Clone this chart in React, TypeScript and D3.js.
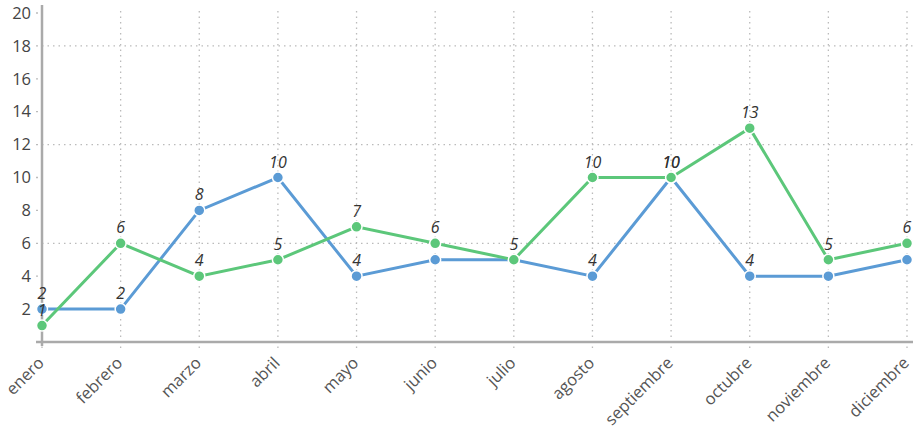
import React, { useRef, useEffect } from "react";
import * as d3 from "d3";

const months = [
  "enero", "febrero", "marzo", "abril", "mayo", "junio",
  "julio", "agosto", "septiembre", "octubre", "noviembre", "diciembre",
];
const blueValues = [2, 2, 8, 10, 4, 5, 5, 4, 10, 4, 4, 5];
const greenValues = [1, 6, 4, 5, 7, 6, 5, 10, 10, 13, 5, 6];
// which points carry a value label (others are hidden by overlap)
const blueLabeled = [true, true, true, true, true, false, false, true, true, true, false, false];
const greenLabeled = [true, true, true, true, true, true, true, true, true, true, true, true];
const yTicks = [2, 4, 6, 8, 10, 12, 14, 16, 18, 20];
const yGrid = [6, 12, 18];

const W = 921;
const H = 426;

export default function App() {
  const svgRef = useRef<SVGSVGElement>(null);

  useEffect(() => {
    if (!svgRef.current) return;
    const svg = d3.select(svgRef.current);
    svg.selectAll("*").remove();

    const margin = { top: 13, right: 14, bottom: 84, left: 42 };
    const innerW = W - margin.left - margin.right;
    const innerH = H - margin.top - margin.bottom;

    const g = svg.append("g").attr("transform", `translate(${margin.left},${margin.top})`);

    const x = d3.scalePoint<string>().domain(months).range([0, innerW]);
    const y = d3.scaleLinear().domain([0, 20]).range([innerH, 0]);

    // grid
    g.selectAll(".vgrid")
      .data(months)
      .enter()
      .append("line")
      .attr("x1", (d) => x(d)!)
      .attr("x2", (d) => x(d)!)
      .attr("y1", -2)
      .attr("y2", innerH + 8)
      .attr("stroke", "#bbb")
      .attr("stroke-width", 1.3)
      .attr("stroke-dasharray", "1.5,4");

    g.selectAll(".hgrid")
      .data(yGrid)
      .enter()
      .append("line")
      .attr("x1", 0)
      .attr("x2", innerW + 6)
      .attr("y1", (d) => y(d))
      .attr("y2", (d) => y(d))
      .attr("stroke", "#bbb")
      .attr("stroke-width", 1.3)
      .attr("stroke-dasharray", "1.5,4");

    // y tick dots
    g.selectAll(".ytick")
      .data(yTicks)
      .enter()
      .append("line")
      .attr("x1", -6)
      .attr("x2", -4)
      .attr("y1", (d) => y(d))
      .attr("y2", (d) => y(d))
      .attr("stroke", "#bbb")
      .attr("stroke-width", 1.3);

    g.selectAll(".ylabel")
      .data(yTicks)
      .enter()
      .append("text")
      .attr("x", -11)
      .attr("y", (d) => y(d))
      .attr("dy", "0.35em")
      .attr("text-anchor", "end")
      .attr("font-family", "'Open Sans', sans-serif")
      .attr("font-size", 16.5)
      .attr("fill", "#444")
      .text((d) => d);

    // axes
    g.append("line")
      .attr("x1", 0).attr("x2", 0)
      .attr("y1", -8).attr("y2", innerH + 4)
      .attr("stroke", "#aaa").attr("stroke-width", 2.5);
    g.append("line")
      .attr("x1", -6).attr("x2", innerW + 6)
      .attr("y1", innerH).attr("y2", innerH)
      .attr("stroke", "#aaa").attr("stroke-width", 2.5);

    // x labels
    g.selectAll(".xlabel")
      .data(months)
      .enter()
      .append("text")
      .attr("transform", (d) => `translate(${x(d)! + 3},${innerH + 22}) rotate(-45)`)
      .attr("text-anchor", "end")
      .attr("font-family", "'Open Sans', sans-serif")
      .attr("font-size", 16.5)
      .attr("fill", "#555")
      .text((d) => d);

    const series = [
      { values: blueValues, labeled: blueLabeled, color: "#5b9bd5" },
      { values: greenValues, labeled: greenLabeled, color: "#5cc77a" },
    ];

    const line = d3
      .line<number>()
      .x((_, i) => x(months[i])!)
      .y((d) => y(d));

    series.forEach((s) => {
      g.append("path")
        .datum(s.values)
        .attr("fill", "none")
        .attr("stroke", s.color)
        .attr("stroke-width", 3)
        .attr("d", line);

      g.selectAll(null)
        .data(s.values)
        .enter()
        .append("circle")
        .attr("cx", (_, i) => x(months[i])!)
        .attr("cy", (d) => y(d))
        .attr("r", 5.5)
        .attr("fill", s.color)
        .attr("stroke", "#fff")
        .attr("stroke-width", 1.5);
    });

    series.forEach((s) => {
      g.selectAll(null)
        .data(s.values.map((v, i) => ({ v, i })).filter((d) => s.labeled[d.i]))
        .enter()
        .append("text")
        .attr("x", (d) => x(months[d.i])!)
        .attr("y", (d) => y(d.v) - 10)
        .attr("text-anchor", "middle")
        .attr("font-family", "'Open Sans', sans-serif")
        .attr("font-style", "italic")
        .attr("font-size", 16)
        .attr("fill", "#333")
        .text((d) => d.v);
    });
  }, []);

  return (
    <svg
      ref={svgRef}
      width={W}
      height={H}
      style={{ position: "absolute", left: 0, top: 0, background: "#fff" }}
    />
  );
}
